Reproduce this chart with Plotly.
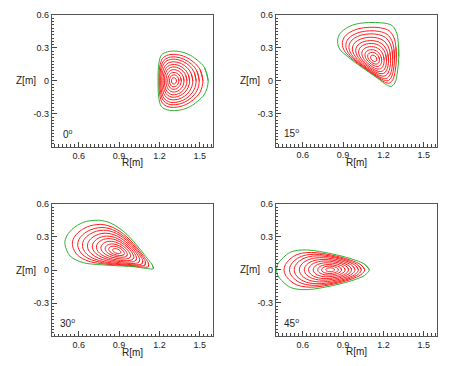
import numpy as np
import plotly.graph_objects as go

# ---------------- data ----------------
panel_angles = ["0", "15", "30", "45"]

# last closed flux surface (green) per toroidal angle, ordered counter-clockwise
boundary_R_0 = [1.562, 1.535, 1.48, 1.41, 1.33, 1.26, 1.215, 1.195, 1.19, 1.195, 1.215, 1.26, 1.33, 1.41, 1.48, 1.535]
boundary_Z_0 = [0.0, 0.12, 0.19, 0.245, 0.27, 0.265, 0.235, 0.15, 0.0, -0.15, -0.235, -0.265, -0.27, -0.245, -0.19, -0.12]

boundary_R_15 = [1.314, 1.311, 1.30, 1.264, 1.19, 1.09, 0.99, 0.917, 0.872, 0.86, 0.875, 0.93, 1.016, 1.09, 1.16, 1.22, 1.257, 1.285, 1.305]
boundary_Z_15 = [0.22, 0.33, 0.43, 0.504, 0.528, 0.531, 0.515, 0.474, 0.42, 0.36, 0.29, 0.225, 0.144, 0.08, 0.02, -0.035, -0.051, -0.02, 0.09]

boundary_R_30 = [1.155, 1.145, 1.10, 1.058, 1.01, 0.959, 0.90, 0.835, 0.77, 0.723, 0.636, 0.549, 0.505, 0.499, 0.537, 0.636, 0.74, 0.835, 1.009, 1.10]
boundary_Z_30 = [0.012, 0.05, 0.12, 0.186, 0.255, 0.321, 0.38, 0.426, 0.448, 0.45, 0.432, 0.366, 0.29, 0.231, 0.126, 0.066, 0.05, 0.042, 0.03, 0.015]

boundary_R_45 = [1.095, 1.06, 0.966, 0.87, 0.768, 0.68, 0.594, 0.51, 0.457, 0.415, 0.407, 0.415, 0.457, 0.51, 0.594, 0.68, 0.768, 0.87, 0.966, 1.06]
boundary_Z_45 = [0.0, 0.05, 0.098, 0.13, 0.157, 0.175, 0.18, 0.16, 0.112, 0.05, 0.0, -0.05, -0.112, -0.16, -0.18, -0.175, -0.157, -0.13, -0.098, -0.05]

# magnetic axis per angle
axis_R = [1.307, 1.128, 0.884, 0.805]
axis_Z = [0.0, 0.204, 0.171, 0.0]

# normalised minor radius of the drawn inner (red) surfaces
surface_levels = [0.10, 0.19, 0.27, 0.36, 0.45, 0.53, 0.62, 0.71, 0.79, 0.88]

x_tickvals = [0.6, 0.9, 1.2, 1.5]
x_ticktext = ["0.6", "0.9", "1.2", "1.5"]
y_tickvals = [-0.3, 0.0, 0.3, 0.6]
y_ticktext = ["-0.3", "0", "0.3", "0.6"]

boundaries = [
    (boundary_R_0, boundary_Z_0),
    (boundary_R_15, boundary_Z_15),
    (boundary_R_30, boundary_Z_30),
    (boundary_R_45, boundary_Z_45),
]

# ---------------- figure ----------------
OFF = 8  # default page body margin of the browser
W, H = 450 - OFF, 366 - OFF
frames = [  # left, right, top, bottom in reference pixels
    (51.7, 213.3, 15.0, 146.7),
    (275.7, 437.3, 15.0, 146.5),
    (51.7, 213.3, 203.7, 336.3),
    (275.7, 437.3, 203.7, 335.9),
]

RED = "rgb(255,30,30)"
GREEN = "rgb(50,175,50)"
FONT = "Liberation Sans, Arial, sans-serif"


def surface(bR, bZ, aR, aZ, rho):
    """Flux surface of radius rho: Fourier modes of the boundary damped as rho^|m|,
    centre shifted from the magnetic axis towards the boundary centre."""
    w = np.array(bR) + 1j * np.array(bZ)
    n = len(w)
    c = np.fft.fft(w)
    m = np.abs(np.fft.fftfreq(n) * n)
    scale = rho ** m
    c = c * scale
    c[0] = n * ((aR + 1j * aZ) * (1 - rho ** 2) + (np.fft.fft(w)[0] / n) * rho ** 2)
    s = np.fft.ifft(c)
    return s.real, s.imag


fig = go.Figure()
layout = dict(
    width=W, height=H, margin=dict(l=0, r=0, t=0, b=0, autoexpand=False),
    paper_bgcolor="white", plot_bgcolor="white", showlegend=False,
    font=dict(family=FONT, size=9, color="#222"),
)
annotations = []

for i, ((bR, bZ), ang) in enumerate(zip(boundaries, panel_angles)):
    n = "" if i == 0 else str(i + 1)
    xa, ya = "x" + n, "y" + n
    for rho in surface_levels:
        sR, sZ = surface(bR, bZ, axis_R[i], axis_Z[i], rho)
        fig.add_trace(go.Scatter(
            x=np.append(sR, sR[:2]), y=np.append(sZ, sZ[:2]), mode="lines",
            line=dict(color=RED, width=1, shape="spline", smoothing=1.0),
            xaxis=xa, yaxis=ya, hoverinfo="skip"))
    fig.add_trace(go.Scatter(
        x=list(bR) + list(bR[:2]), y=list(bZ) + list(bZ[:2]), mode="lines",
        line=dict(color=GREEN, width=1, shape="spline", smoothing=1.0),
        xaxis=xa, yaxis=ya, hoverinfo="skip"))

    l, r, t, b = [v - OFF for v in frames[i]]
    common = dict(
        showline=True, linecolor="#555", linewidth=1, mirror=True,
        showgrid=False, zeroline=False,
        ticks="inside", ticklen=5, tickcolor="#444", tickwidth=1,
        tickfont=dict(family=FONT, size=9, color="#222"),
        tickmode="array",
        minor=dict(ticks="inside", ticklen=2.5, tickcolor="#444", tickwidth=1,
                   tickmode="linear", tick0=0, dtick=0.03, showgrid=False),
    )
    layout["xaxis" + n] = dict(common, domain=[l / W, r / W], range=[0.4, 1.6],
                               tickvals=x_tickvals, ticktext=x_ticktext, anchor=ya)
    layout["yaxis" + n] = dict(common, domain=[1 - b / H, 1 - t / H], range=[-0.6, 0.6],
                               tickvals=y_tickvals, ticktext=y_ticktext, anchor=xa)

    annotations.append(dict(text="R[m]", xref="paper", yref="paper",
                            x=(l + r) / 2 / W, y=1 - (b + 16) / H,
                            showarrow=False, font=dict(family=FONT, size=10, color="#222"),
                            xanchor="center", yanchor="middle"))
    annotations.append(dict(text="Z[m]", xref="paper", yref="paper",
                            x=(l - 26) / W, y=1 - ((t + b) / 2) / H,
                            showarrow=False, font=dict(family=FONT, size=10, color="#222"),
                            xanchor="center", yanchor="middle"))
    annotations.append(dict(text=ang + "<sup>o</sup>", xref=xa, yref=ya,
                            x=0.52, y=-0.48, showarrow=False,
                            font=dict(family=FONT, size=10, color="#222"),
                            xanchor="center", yanchor="middle"))

layout["annotations"] = annotations
fig.update_layout(**layout)
fig.write_html("out.html")
